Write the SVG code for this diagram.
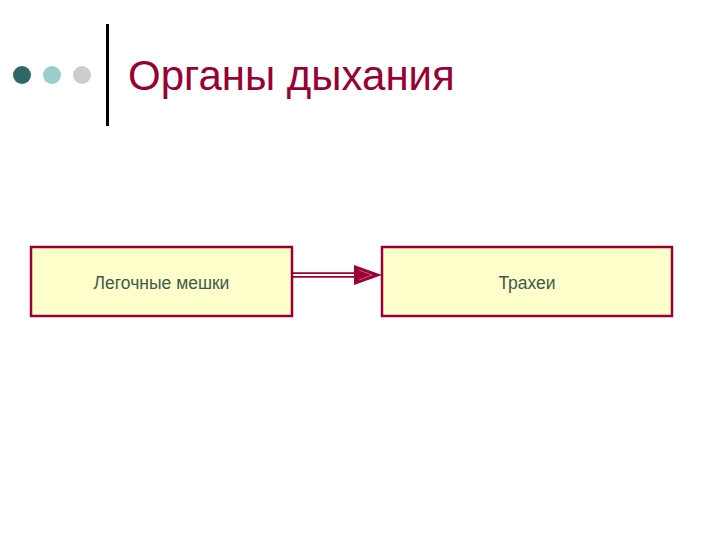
<svg xmlns="http://www.w3.org/2000/svg" width="720" height="540" viewBox="0 0 720 540">
<style>
.box{fill:#ffffcc;stroke:#990033;stroke-width:2.5}
.lbl{font-family:"Liberation Sans",Arial,sans-serif;font-size:17.5px;fill:#3d5a4a;text-anchor:middle}
.title{font-family:"Liberation Sans",Arial,sans-serif;font-size:42px;fill:#990033}
</style>
<rect width="720" height="540" fill="#ffffff"/>
<g id="decor">
<circle cx="22" cy="75" r="9" fill="#2f6666"/>
<circle cx="52" cy="75" r="9" fill="#99cccc"/>
<circle cx="82" cy="75" r="9" fill="#cccccc"/>
<rect x="106" y="24" width="3" height="102" fill="#000000"/>
</g>
<text class="title" x="128" y="90">Органы дыхания</text>
<g id="connectors">
<line x1="292" y1="275" x2="356" y2="275" stroke="#990033" stroke-width="5.5"/>
<line x1="292" y1="275" x2="356" y2="275" stroke="#ffffff" stroke-width="1.8"/>
<polygon points="354,265 382,275 354,285" fill="#990033"/>
<polyline points="359,270 372,275 359,280" fill="none" stroke="#ffffff" stroke-width="0.6" opacity="0.6"/>
</g>
<g id="node1">
<rect class="box" x="31" y="247" width="261" height="69"/>
<text class="lbl" x="161.5" y="289">Легочные мешки</text>
</g>
<g id="node2">
<rect class="box" x="382" y="247" width="290" height="69"/>
<text class="lbl" x="527" y="289">Трахеи</text>
</g>
</svg>
